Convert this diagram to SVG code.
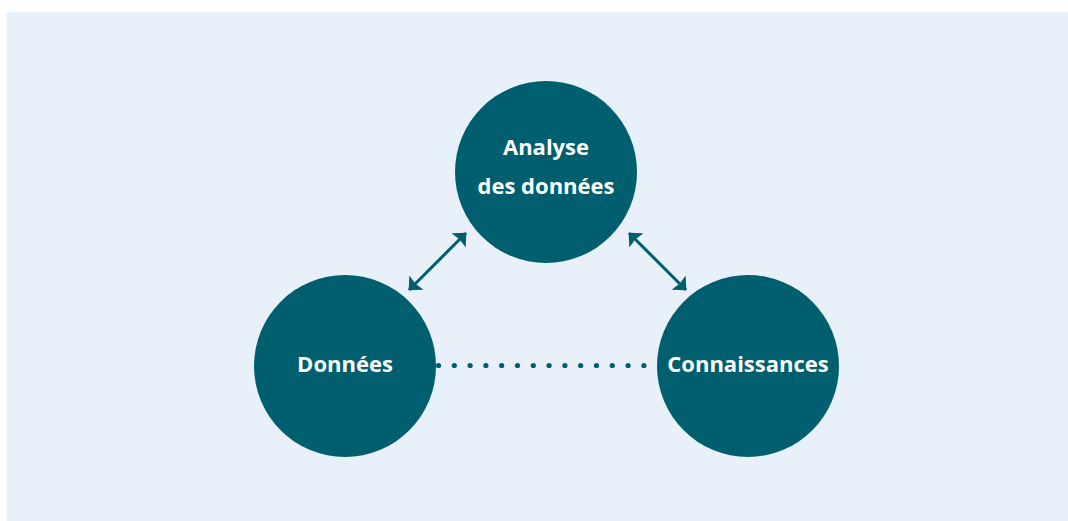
<svg xmlns="http://www.w3.org/2000/svg" width="1068" height="521" viewBox="0 0 1068 521">
<style>
.node{fill:#005f6e}
.lbl{fill:#fff;font-family:"Open Sans","Noto Sans","DejaVu Sans",sans-serif;font-weight:bold;font-size:22px;text-anchor:middle}
.arr{stroke:#005f6e;stroke-width:3;fill:none;marker-start:url(#ah);marker-end:url(#ah)}
.dot{fill:#005f6e}
</style>
<defs>
<marker id="ah" viewBox="0 0 11 20" refX="10.5" refY="10" markerWidth="11" markerHeight="20" orient="auto-start-reverse" markerUnits="userSpaceOnUse">
<path d="M0,0 L11,10 L0,20 L1.5,10 Z" fill="#005f6e"/>
</marker>
</defs>
<rect x="7" y="12" width="1061" height="509" fill="#e8f0f9"/>
<g id="connectors">
<line class="arr" x1="409" y1="290" x2="466" y2="233"/>
<line class="arr" x1="629" y1="233" x2="686" y2="290"/>
<g id="dotted">
<circle class="dot" cx="438.5" cy="365.5" r="2.6"/><circle class="dot" cx="454.3" cy="365.5" r="2.6"/><circle class="dot" cx="470.1" cy="365.5" r="2.6"/><circle class="dot" cx="485.9" cy="365.5" r="2.6"/><circle class="dot" cx="501.7" cy="365.5" r="2.6"/><circle class="dot" cx="517.5" cy="365.5" r="2.6"/><circle class="dot" cx="533.3" cy="365.5" r="2.6"/><circle class="dot" cx="549.1" cy="365.5" r="2.6"/><circle class="dot" cx="564.9" cy="365.5" r="2.6"/><circle class="dot" cx="580.7" cy="365.5" r="2.6"/><circle class="dot" cx="596.5" cy="365.5" r="2.6"/><circle class="dot" cx="612.3" cy="365.5" r="2.6"/><circle class="dot" cx="628.1" cy="365.5" r="2.6"/><circle class="dot" cx="643.9" cy="365.5" r="2.6"/>
</g>
</g>
<g id="analyse">
<circle class="node" cx="546" cy="172" r="91"/>
<text class="lbl" x="546" y="155">Analyse</text>
<text class="lbl" x="546" y="194">des données</text>
</g>
<g id="donnees">
<circle class="node" cx="345" cy="366" r="91"/>
<text class="lbl" x="345" y="372">Données</text>
</g>
<g id="connaissances">
<circle class="node" cx="748" cy="366" r="91"/>
<text class="lbl" x="748" y="372">Connaissances</text>
</g>
</svg>
